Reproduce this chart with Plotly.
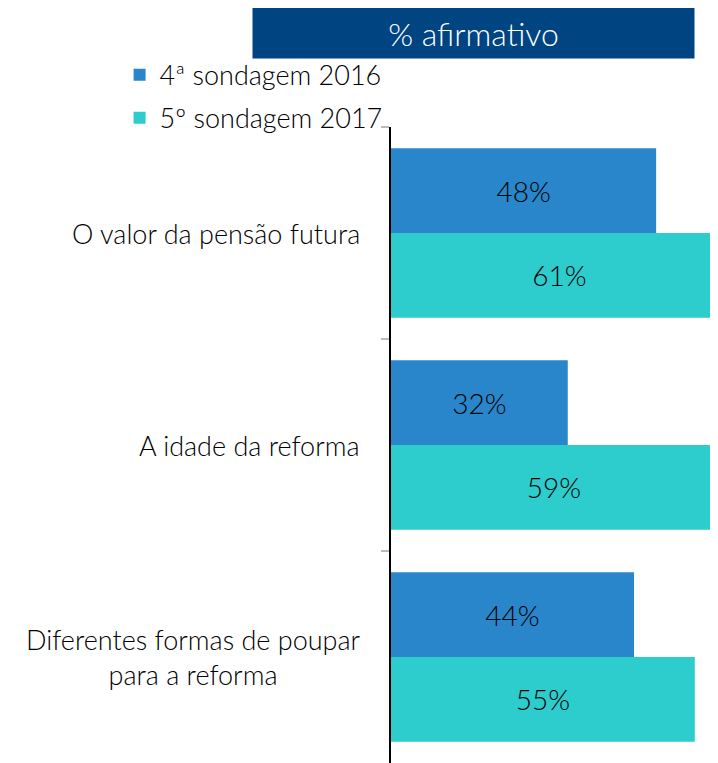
import plotly.graph_objects as go

categories = ["O valor da pensão futura", "A idade da reforma",
              "Diferentes formas de poupar<br>para a reforma"]
series_names = ["4ª sondagem 2016", "5º sondagem 2017"]
values_2016 = [48, 32, 44]
values_2017 = [61, 59, 55]

colors = ["#2A86CA", "#2DCCCD"]
FONT = "Lato"
TXT = "#000000"

fig = go.Figure()
for i, (name, vals) in enumerate(zip(series_names, [values_2016, values_2017])):
    fig.add_trace(go.Bar(
        y=categories,
        x=vals,
        orientation='h',
        name=name,
        legendgroup=f"g{i}",
        marker=dict(color=colors[i], line=dict(width=0)),
        text=[f"{v}%" for v in vals],
        textposition='inside',
        insidetextanchor='middle',
        textangle=0,
        textfont=dict(family=FONT, size=28, color=TXT, weight=300),
        cliponaxis=True,
    ))

# category labels as centred annotations
for cat in categories:
    fig.add_annotation(
        x=-0.09, xref='paper', y=cat, yref='y',
        text=cat, showarrow=False, xanchor='right', align='center',
        font=dict(family=FONT, size=27, color=TXT, weight=300),
    )

# header box
fig.add_annotation(
    x=0.252, xref='paper', y=1.148, yref='paper',
    text="% afirmativo", showarrow=False, xanchor='center', yanchor='middle',
    bgcolor="#004481", width=435, height=44, borderpad=3,
    font=dict(family=FONT, size=32, color="white", weight=300),
)

fig.update_layout(
    width=710, height=755,
    barmode='group',
    bargap=0.2,
    bargroupgap=0,
    plot_bgcolor='white',
    paper_bgcolor='white',
    margin=dict(l=383, r=0, t=119, b=0, pad=0, autoexpand=False),
    showlegend=True,
    legend=dict(
        x=-0.83, xanchor='left', y=1.12, yanchor='top',
        font=dict(family=FONT, size=27, color=TXT, weight=300),
        traceorder='grouped', tracegroupgap=5,
        bgcolor='rgba(0,0,0,0)', itemwidth=30,
    ),
    xaxis=dict(range=[0, 59.2], visible=False, fixedrange=True),
    yaxis=dict(
        autorange='reversed',
        showticklabels=False,
        showline=True, linecolor='black', linewidth=1.5,
        ticks='outside', tickson='boundaries', ticklen=8,
        tickcolor='#BBBBBB', tickwidth=2,
        showgrid=False, zeroline=False,
    ),
)

fig.write_html("out.html")
